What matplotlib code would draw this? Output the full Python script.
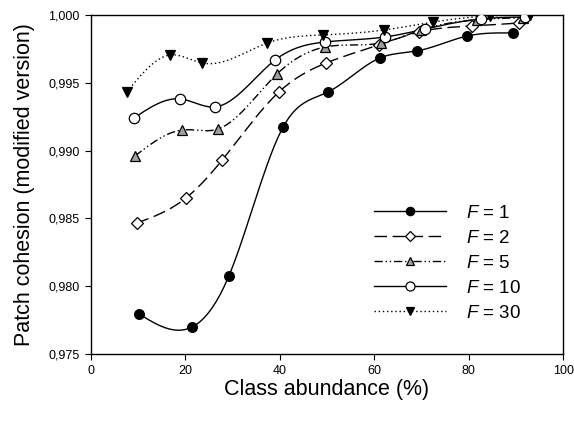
import numpy as np
import matplotlib
matplotlib.use("Agg")
import matplotlib.pyplot as plt
from matplotlib.lines import Line2D

plt.rcParams['font.family'] = ['Liberation Sans', 'DejaVu Sans']
plt.rcParams['mathtext.fontset'] = 'custom'
plt.rcParams['mathtext.it'] = 'Liberation Sans:italic'
plt.rcParams['mathtext.rm'] = 'Liberation Sans'

# class abundance (%) and patch cohesion for each F
x_f1 = [10.2, 21.4, 29.2, 40.7, 50.2, 61.2, 69.1, 79.7, 89.4]
y_f1 = [0.97795, 0.97699, 0.98075, 0.99174, 0.99432, 0.99683, 0.99735, 0.99845, 0.99867]

x_f2 = [9.7, 20.1, 27.8, 39.8, 49.8, 61.0, 69.5, 80.7, 90.7]
y_f2 = [0.98466, 0.98650, 0.98931, 0.99432, 0.99646, 0.99780, 0.99875, 0.99919, 0.99941]

x_f5 = [9.3, 19.3, 26.9, 39.4, 49.6, 61.4, 70.0, 81.8, 91.5]
y_f5 = [0.98960, 0.99152, 0.99159, 0.99565, 0.99764, 0.99793, 0.99890, 0.99965, 0.99980]

x_f10 = [9.1, 18.9, 26.3, 39.0, 49.6, 62.3, 70.8, 82.6, 91.9]
y_f10 = [0.99240, 0.99381, 0.99322, 0.99668, 0.99801, 0.99838, 0.99897, 0.99971, 0.99985]

x_f30 = [7.6, 16.7, 23.5, 37.3, 49.2, 62.0, 72.5, 84.5, 93.0]
y_f30 = [0.99432, 0.99705, 0.99646, 0.99793, 0.99853, 0.99889, 0.99948, 0.99993, 0.99998]

labels = ['1', '2', '5', '10', '30']
yticks = [0.975, 0.980, 0.985, 0.990, 0.995, 1.000]
xticks = [0, 20, 40, 60, 80, 100]


def spline(x, y, n=200):
    # natural cubic spline, used only to draw the smooth connecting line
    x = np.asarray(x, float)
    y = np.asarray(y, float)
    k = len(x)
    h = np.diff(x)
    A = np.zeros((k, k))
    b = np.zeros(k)
    A[0, 0] = A[-1, -1] = 1
    for i in range(1, k - 1):
        A[i, i - 1] = h[i - 1]
        A[i, i] = 2 * (h[i - 1] + h[i])
        A[i, i + 1] = h[i]
        b[i] = 6 * ((y[i + 1] - y[i]) / h[i] - (y[i] - y[i - 1]) / h[i - 1])
    M = np.linalg.solve(A, b)
    xs = np.linspace(x[0], x[-1], n)
    idx = np.clip(np.searchsorted(x, xs) - 1, 0, k - 2)
    x0, x1 = x[idx], x[idx + 1]
    hh = x1 - x0
    t0, t1 = x1 - xs, xs - x0
    ys = (M[idx] * t0 ** 3 / (6 * hh) + M[idx + 1] * t1 ** 3 / (6 * hh)
          + (y[idx] / hh - M[idx] * hh / 6) * t0
          + (y[idx + 1] / hh - M[idx + 1] * hh / 6) * t1)
    return xs, ys


series = [
    (x_f1, y_f1, '-', 'o', 'black', 7),
    (x_f2, y_f2, (0, (9, 4)), 'D', 'white', 6),
    (x_f5, y_f5, (0, (6, 2, 1, 2, 1, 2)), '^', '#a0a0a0', 7),
    (x_f10, y_f10, '-', 'o', 'white', 7.5),
    (x_f30, y_f30, (0, (1, 2)), 'v', 'black', 7),
]

fig = plt.figure(figsize=(5.74, 4.21), dpi=100)
ax = fig.add_axes([0.1585, 0.1591, 0.8225, 0.8053])

handles = []
for (xv, yv, ls, mk, fc, ms), lab in zip(series, labels):
    xs, ys = spline(xv, yv)
    ax.plot(xs, ys, color='black', lw=1.0, ls=ls, zorder=2)
    ax.plot(xv, yv, ls='none', marker=mk, ms=ms, mfc=fc, mec='black',
            mew=0.9, zorder=3)
    handles.append(Line2D([], [], color='black', lw=1.0, ls=ls, marker=mk,
                          ms=ms - 1, mfc=fc, mec='black', mew=0.9,
                          label=r'$F$ = ' + lab))

ax.set_xlim(0, 100)
ax.set_ylim(0.975, 1.000)
ax.set_xticks(xticks)
ax.set_yticks(yticks)
ax.set_yticklabels([f'{v:.3f}'.replace('.', ',') for v in yticks])
ax.tick_params(direction='out', length=4, width=0.8, labelsize=9, pad=4)
for s in ax.spines.values():
    s.set_linewidth(1.0)

ax.set_xlabel('Class abundance (%)', fontsize=15.5, labelpad=1)
ax.set_ylabel('Patch cohesion (modified version)', fontsize=15.5, labelpad=10)

ax.legend(handles=handles, loc='center left', bbox_to_anchor=(0.58, 0.268),
          frameon=False, fontsize=13.5, handlelength=3.85, handletextpad=1.07,
          labelspacing=0.42, borderpad=0)

fig.savefig('out.png', dpi=100)
